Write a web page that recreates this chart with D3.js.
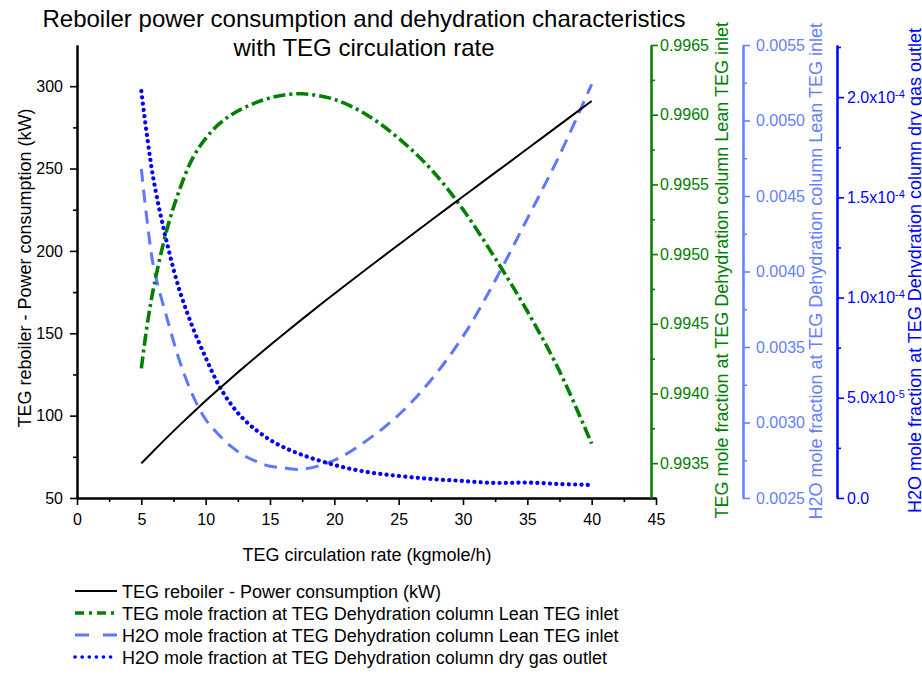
<!DOCTYPE html>
<html>
<head>
<meta charset="utf-8">
<script src="https://cdn.jsdelivr.net/npm/d3@7"></script>
<style>
    body { margin: 0; background: #fff; }
    svg { display: block; font-family: "Liberation Sans", Arial, sans-serif; }
</style>
</head>
<body>
<svg id="chart" width="922" height="675"></svg>
<script>
//
// Data
//
var rate = [5, 5.5, 6, 7, 8, 9, 10, 11, 12, 13, 14, 15, 16, 17.5, 20, 22.5, 25, 27.5, 30, 32.5, 35, 37.5, 40];
var power = [71, 75, 79, 86.8, 94.4, 101.8, 109, 116, 122.8, 129.6, 136.2, 142.7, 149.1, 158.6, 174, 189, 203.8, 218.5, 233, 247.5, 262, 276.5, 291];
var tegLean = [0.99418, 0.99452, 0.99478, 0.99518, 0.99547, 0.99569, 0.99583, 0.99593, 0.99600, 0.99605, 0.99609, 0.99612, 0.99614, 0.99615, 0.99611, 0.99600, 0.99583, 0.99561, 0.99532, 0.99497, 0.99459, 0.99416, 0.99364];
var h2oLean = [0.00468, 0.00430, 0.00401, 0.00369, 0.00340, 0.00318, 0.00302, 0.00292, 0.00284, 0.00278, 0.00274, 0.00271, 0.00270, 0.00269, 0.00275, 0.00288, 0.00305, 0.00328, 0.00357, 0.00394, 0.00435, 0.00477, 0.00524];
var h2oGas = [2.03e-4, 1.78e-4, 1.57e-4, 1.27e-4, 1.03e-4, 0.85e-4, 0.70e-4, 0.565e-4, 0.465e-4, 0.39e-4, 0.335e-4, 0.29e-4, 0.255e-4, 0.215e-4, 0.165e-4, 0.13e-4, 0.11e-4, 0.095e-4, 0.085e-4, 0.075e-4, 0.077e-4, 0.07e-4, 0.065e-4];

var xTicks = [0, 5, 10, 15, 20, 25, 30, 35, 40, 45];
var powerTicks = [50, 100, 150, 200, 250, 300];
var tegTicks = [0.9935, 0.9940, 0.9945, 0.9950, 0.9955, 0.9960, 0.9965];
var h2oLeanTicks = [0.0025, 0.0030, 0.0035, 0.0040, 0.0045, 0.0050, 0.0055];
var h2oGasTicks = [0, 5e-5, 1e-4, 1.5e-4, 2e-4];
var h2oGasLabels = [["0.0", ""], ["5.0x10", "-5"], ["1.0x10", "-4"], ["1.5x10", "-4"], ["2.0x10", "-4"]];

var titleLines = ["Reboiler power consumption and dehydration characteristics", "with TEG circulation rate"];
var seriesNames = [
    "TEG reboiler - Power consumption (kW)",
    "TEG mole fraction at TEG Dehydration column Lean TEG inlet",
    "H2O mole fraction at TEG Dehydration column Lean TEG inlet",
    "H2O mole fraction at TEG Dehydration column dry gas outlet"
];

var GREEN = "#008000", LIGHT = "#6680ff", LIGHTLINE = "#5b78ff", BLUE = "#0000ff";

//
// Scales
//
var svg = d3.select("#chart");
var plotTop = 45, plotBottom = 498;
var x = d3.scaleLinear().domain([0, 45]).range([77, 656]);
var yPower = d3.scaleLinear().domain([50, 325]).range([plotBottom, plotTop]);
var yTeg = d3.scaleLinear().domain([0.99325, 0.9965]).range([plotBottom, plotTop]);
var yLean = d3.scaleLinear().domain([0.0025, 0.0055]).range([plotBottom, plotTop]);
var yGas = d3.scaleLinear().domain([0, 2.26e-4]).range([plotBottom, plotTop]);

function minors(ticks) {
    var m = [];
    for (var i = 0; i < ticks.length - 1; i++) m.push((ticks[i] + ticks[i + 1]) / 2);
    return m;
}

function styleAxis(g, color) {
    g.select(".domain").attr("stroke", color).attr("stroke-width", 2);
    g.selectAll(".tick line").attr("stroke", color).attr("stroke-width", 1.6);
    g.selectAll(".tick text").attr("fill", color).attr("font-size", 16)
        .attr("font-family", "Liberation Sans, Arial, sans-serif");
}

// draws a vertical/horizontal axis with major + minor ticks
function drawAxis(axisFn, scale, pos, isX, majors, mins, color, fmt, pad) {
    var g = svg.append("g").attr("transform", isX ? "translate(0," + pos + ")" : "translate(" + pos + ",0)");
    g.append("g").call(axisFn(scale).tickValues(mins).tickSize(4).tickSizeOuter(0).tickFormat(""))
        .call(function(s) { styleAxis(s, color); });
    var maj = g.append("g").call(axisFn(scale).tickValues(majors).tickSize(7).tickSizeOuter(0).tickPadding(pad).tickFormat(fmt))
        .call(function(s) { styleAxis(s, color); });
    return maj;
}

// bottom + left axes
drawAxis(d3.axisBottom, x, plotBottom, true, xTicks, minors(xTicks), "#000", d3.format("d"), 9);
drawAxis(d3.axisLeft, yPower, 77, false, powerTicks, minors(powerTicks), "#000", d3.format("d"), 7);

// right axes
drawAxis(d3.axisRight, yTeg, 651, false, tegTicks, minors(tegTicks), GREEN, d3.format(".4f"), 2);
drawAxis(d3.axisRight, yLean, 743, false, h2oLeanTicks, minors(h2oLeanTicks), LIGHT, d3.format(".4f"), 6);
var gasAxis = drawAxis(d3.axisRight, yGas, 837, false, h2oGasTicks, minors(h2oGasTicks).concat([2.25e-4]), BLUE, function() { return ""; }, 3);
gasAxis.selectAll(".tick text").each(function(d, i) {
    var t = d3.select(this);
    t.append("tspan").text(h2oGasLabels[i][0]);
    if (h2oGasLabels[i][1]) t.append("tspan").attr("dy", "-0.45em").attr("font-size", 11).text(h2oGasLabels[i][1]);
});

//
// Curves
//
function drawSeries(values, yScale, color, width, dash, cap) {
    var pts = rate.map(function(r, i) { return [r, values[i]]; });
    var line = d3.line()
        .x(function(d) { return x(d[0]); })
        .y(function(d) { return yScale(d[1]); })
        .curve(d3.curveCatmullRom.alpha(0.5));
    svg.append("path")
        .datum(pts)
        .attr("fill", "none")
        .attr("stroke", color)
        .attr("stroke-width", width)
        .attr("stroke-dasharray", dash)
        .attr("stroke-linecap", cap || "butt")
        .attr("d", line);
}

drawSeries(h2oLean, yLean, LIGHTLINE, 3, "13,8");
drawSeries(h2oGas, yGas, BLUE, 4.2, "0.1,6.2", "round");
drawSeries(tegLean, yTeg, GREEN, 3.6, "12,4,3,4");
drawSeries(power, yPower, "#000", 2, null);

//
// Texts
//
svg.selectAll(".title").data(titleLines).enter().append("text")
    .attr("x", 364)
    .attr("y", function(d, i) { return 27 + i * 28.5; })
    .attr("text-anchor", "middle")
    .attr("font-size", 24)
    .text(function(d) { return d; });

svg.append("text")
    .attr("x", 367).attr("y", 561)
    .attr("text-anchor", "middle").attr("font-size", 18)
    .text("TEG circulation rate (kgmole/h)");

function vTitle(tx, ty, anchor, color, str) {
    svg.append("text")
        .attr("transform", "translate(" + tx + "," + ty + ") rotate(-90)")
        .attr("text-anchor", anchor).attr("font-size", 18).attr("fill", color)
        .text(str);
}
vTitle(31, 268, "middle", "#000", "TEG reboiler - Power consumption (kW)");
vTitle(728, 22, "end", GREEN, seriesNames[1]);
vTitle(822, 23, "end", LIGHT, seriesNames[2]);
vTitle(921, 28, "end", BLUE, seriesNames[3]);

//
// Legend
//
var legendStyles = [
    { color: "#000", width: 2, dash: null, cap: "butt" },
    { color: GREEN, width: 3.6, dash: "9,5,3,5", cap: "butt" },
    { color: LIGHTLINE, width: 3, dash: "14,14", cap: "butt" },
    { color: BLUE, width: 3.6, dash: "0.1,7", cap: "round" }
];
var leg = svg.append("g").selectAll("g").data(seriesNames).enter().append("g")
    .attr("transform", function(d, i) { return "translate(0," + (591 + i * 22) + ")"; });
leg.append("line")
    .attr("x1", 75).attr("x2", 117).attr("y1", 0).attr("y2", 0)
    .attr("stroke", function(d, i) { return legendStyles[i].color; })
    .attr("stroke-width", function(d, i) { return legendStyles[i].width; })
    .attr("stroke-dasharray", function(d, i) { return legendStyles[i].dash; })
    .attr("stroke-linecap", function(d, i) { return legendStyles[i].cap; });
leg.append("text")
    .attr("x", 122).attr("y", 6.5)
    .attr("font-size", 18)
    .text(function(d) { return d; });
</script>
</body>
</html>
